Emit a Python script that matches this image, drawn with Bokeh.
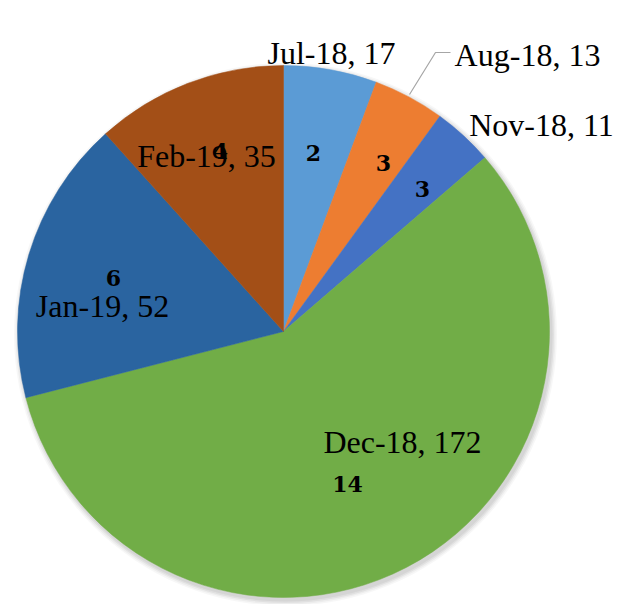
import math
from bokeh.plotting import figure
from bokeh.models import Range1d, ColumnDataSource
from bokeh.core.properties import value
from bokeh.embed import file_html
from bokeh.resources import INLINE

# ---- data ----
months = ["Jul-18", "Aug-18", "Nov-18", "Dec-18", "Jan-19", "Feb-19"]
counts = [17, 13, 11, 172, 52, 35]
inner_values = [2, 3, 3, 14, 6, 4]
colors = ["#5b9bd5", "#ed7d31", "#4472c4", "#71ad47", "#2a64a0", "#a34f17"]

# ---- layout (pixel offsets from pie centre, screen y downward) ----
CX, CY, R = 283, 331, 266
outer_off = [(48, -279), (244, -277), (258, -207), (119, 110), (-181, -26), (-77, -176)]
inner_off = [(30, -179), (100, -169), (139, -143), (64, 152), (-170, -54), (-63, -181)]

W, H = 618, 604
p = figure(width=W, height=H, x_range=Range1d(0, W), y_range=Range1d(612 - H, 612),
           output_backend="svg", toolbar_location=None, min_border=0)
p.axis.visible = False
p.grid.visible = False
p.outline_line_color = None
p.background_fill_color = "white"

def Y(py):
    return 612 - py

cx, cy = CX, Y(CY)

# soft shadow
for i, a in enumerate([0.05, 0.05, 0.04, 0.03]):
    p.circle(x=[cx + 2], y=[cy - 3], radius=R + 1 + i * 1.5, fill_color="#000000",
             fill_alpha=a, line_color=None)

total = sum(counts)
cum = [0]
for c in counts:
    cum.append(cum[-1] + c)
starts = [math.pi / 2 - 2 * math.pi * cum[i + 1] / total for i in range(len(counts))]
ends = [math.pi / 2 - 2 * math.pi * cum[i] / total for i in range(len(counts))]

src = ColumnDataSource(dict(start=starts, end=ends, color=colors,
                            x=[cx] * len(counts), y=[cy] * len(counts)))
p.wedge(x="x", y="y", radius=R, start_angle="start", end_angle="end",
        fill_color="color", line_color="color", line_width=0.5, source=src)

# leader line for Aug-18
p.line(x=[409, 435, 450], y=[Y(94), Y(52), Y(52)], line_color="#a6a6a6", line_width=1.2)

# outer labels
labels = [f"{m}, {c}" for m, c in zip(months, counts)]
lx = [CX + dx for dx, dy in outer_off]
ly = [Y(CY + dy) for dx, dy in outer_off]
p.text(x=lx, y=ly, text=labels, text_align="center", text_baseline="alphabetic",
       text_font=value("Liberation Serif"), text_font_size="32px", text_color="#000000")

# inner bold numbers
ix = [CX + dx for dx, dy in inner_off]
iy = [Y(CY + dy) for dx, dy in inner_off]
p.text(x=ix, y=iy, text=[str(v) for v in inner_values], text_align="center",
       text_baseline="middle", text_font=value("DejaVu Serif"), text_font_size="22px",
       text_font_style="bold", text_color="#000000")

open("out.html", "w").write(file_html(p, INLINE))
